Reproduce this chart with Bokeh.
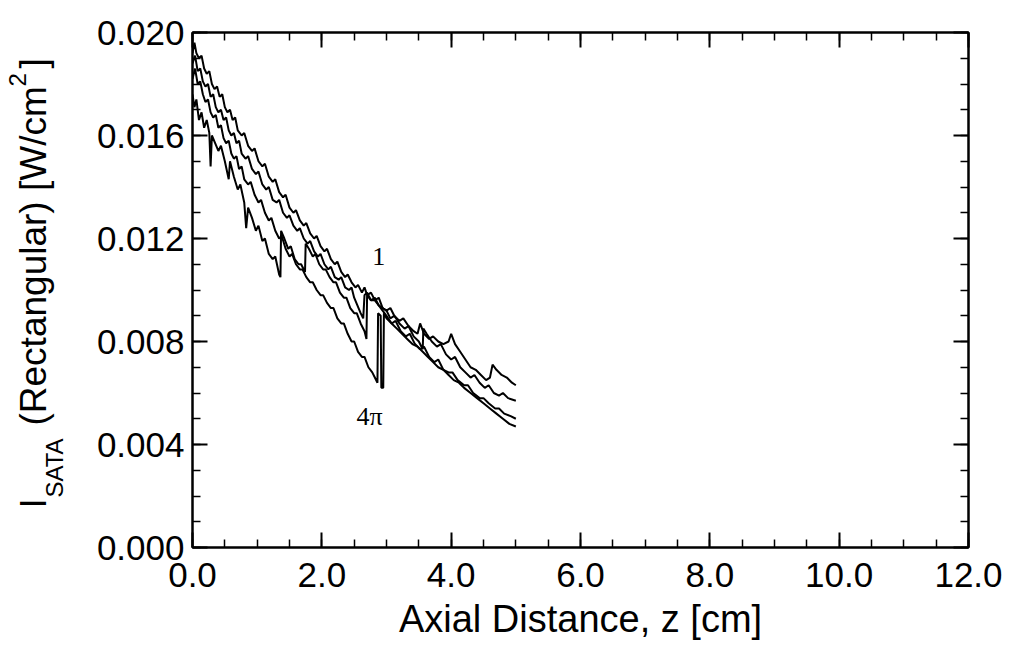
from math import pi
from bokeh.plotting import figure
from bokeh.layouts import row
from bokeh.models import (Range1d, LinearAxis, SingleIntervalTicker, PrintfTickFormatter,
                          CustomJSTickFormatter)
from bokeh.embed import file_html
from bokeh.resources import INLINE
from bokeh.core.properties import value

# ---------------- data ----------------
z_a = [0.00, 0.03, 0.06, 0.10, 0.14, 0.18, 0.22, 0.26, 0.30, 0.34, 0.38, 0.42, 0.46, 0.50,
       0.54, 0.58, 0.62, 0.66, 0.70, 0.76, 0.80, 0.86, 0.92, 0.96, 1.02, 1.08, 1.12, 1.18,
       1.24, 1.28, 1.34, 1.40, 1.44, 1.50, 1.56, 1.60, 1.66, 1.72, 1.76, 1.82, 1.88, 1.92,
       1.98, 2.04, 2.08, 2.14, 2.20, 2.24, 2.30, 2.36, 2.40, 2.46, 2.52, 2.56, 2.62, 2.66,
       2.70, 2.76, 2.82, 2.88, 2.94, 3.00, 3.06, 3.12, 3.20, 3.26, 3.34, 3.42, 3.48, 3.52,
       3.58, 3.66, 3.72, 3.80, 3.88, 3.96, 4.00, 4.06, 4.14, 4.22, 4.30, 4.38, 4.46, 4.54,
       4.60, 4.64, 4.70, 4.78, 4.86, 4.94, 5.00]
i_a = [0.0192, 0.0196, 0.0192, 0.0190, 0.0191, 0.0186, 0.0184, 0.0185, 0.0180, 0.0178,
       0.0179, 0.0175, 0.0176, 0.0171, 0.0169, 0.0170, 0.0166, 0.0167, 0.0162, 0.0160,
       0.0161, 0.0156, 0.0154, 0.0155, 0.0150, 0.0148, 0.0149, 0.0144, 0.0142, 0.0143,
       0.0138, 0.0136, 0.0137, 0.0132, 0.0130, 0.0131, 0.0127, 0.0125, 0.0126, 0.0122,
       0.0120, 0.0121, 0.0117, 0.0115, 0.0116, 0.0112, 0.0110, 0.0111, 0.0107, 0.0105,
       0.0106, 0.0103, 0.0101, 0.0102, 0.0099, 0.0101, 0.0098, 0.0099, 0.0096, 0.0097,
       0.0093, 0.0092, 0.0093, 0.0090, 0.0088, 0.0089, 0.0086, 0.0084, 0.0083, 0.0087,
       0.0083, 0.0081, 0.0082, 0.0080, 0.0079, 0.0080, 0.0083, 0.0079, 0.0076, 0.0073,
       0.0070, 0.0069, 0.0067, 0.0065, 0.0066, 0.0071, 0.0069, 0.0067, 0.0066, 0.0064,
       0.0063]

z_b = [0.00, 0.04, 0.08, 0.12, 0.16, 0.20, 0.24, 0.28, 0.32, 0.36, 0.40, 0.44, 0.48, 0.52,
       0.56, 0.60, 0.64, 0.68, 0.72, 0.76, 0.82, 0.86, 0.92, 0.98, 1.02, 1.08, 1.14, 1.18,
       1.24, 1.30, 1.34, 1.40, 1.46, 1.50, 1.56, 1.62, 1.66, 1.72, 1.78, 1.82, 1.88, 1.94,
       1.98, 2.04, 2.10, 2.14, 2.20, 2.26, 2.30, 2.36, 2.42, 2.46, 2.50, 2.55, 2.60, 2.64,
       2.66, 2.70, 2.76, 2.82, 2.88, 2.94, 3.00, 3.06, 3.12, 3.20, 3.28, 3.34, 3.42, 3.50,
       3.56, 3.57, 3.62, 3.70, 3.78, 3.84, 3.92, 4.00, 4.06, 4.14, 4.22, 4.30, 4.36, 4.44,
       4.52, 4.58, 4.66, 4.74, 4.80, 4.88, 5.00]
i_b = [0.0188, 0.0191, 0.0185, 0.0186, 0.0181, 0.0179, 0.0180, 0.0175, 0.0176, 0.0171,
       0.0169, 0.0170, 0.0166, 0.0167, 0.0162, 0.0160, 0.0161, 0.0157, 0.0158, 0.0153,
       0.0151, 0.0152, 0.0147, 0.0145, 0.0146, 0.0141, 0.0139, 0.0140, 0.0135, 0.0134,
       0.0135, 0.0130, 0.0128, 0.0129, 0.0125, 0.0123, 0.0124, 0.0120, 0.0118, 0.0119,
       0.0115, 0.0113, 0.0114, 0.0110, 0.0108, 0.0109, 0.0105, 0.0104, 0.0105, 0.0101,
       0.0100, 0.0101, 0.0097, 0.0094, 0.0091, 0.0089, 0.0098, 0.0099, 0.0096, 0.0097,
       0.0094, 0.0093, 0.0092, 0.0089, 0.0090, 0.0087, 0.0085, 0.0086, 0.0082, 0.0080,
       0.0077, 0.0085, 0.0083, 0.0080, 0.0078, 0.0079, 0.0075, 0.0073, 0.0074, 0.0070,
       0.0068, 0.0066, 0.0067, 0.0064, 0.0062, 0.0063, 0.0060, 0.0059, 0.0060, 0.0058,
       0.0057]

z_c = [0.00, 0.04, 0.08, 0.12, 0.16, 0.20, 0.24, 0.28, 0.32, 0.36, 0.40, 0.44, 0.48, 0.52,
       0.56, 0.60, 0.64, 0.68, 0.72, 0.76, 0.80, 0.86, 0.90, 0.96, 1.02, 1.06, 1.12, 1.18,
       1.22, 1.28, 1.34, 1.38, 1.44, 1.50, 1.54, 1.60, 1.66, 1.70, 1.76, 1.82, 1.86, 1.92,
       1.98, 2.02, 2.08, 2.14, 2.18, 2.24, 2.30, 2.34, 2.40, 2.46, 2.50, 2.56, 2.62, 2.66,
       2.72, 2.78, 2.82, 2.86, 2.87, 2.91, 2.92, 2.95, 2.96, 3.00, 3.08, 3.14, 3.22, 3.30,
       3.36, 3.44, 3.52, 3.58, 3.66, 3.74, 3.80, 3.88, 3.96, 4.02, 4.10, 4.20, 4.26, 4.34,
       4.44, 4.50, 4.58, 4.68, 4.74, 4.82, 4.92, 5.00]
i_c = [0.0182, 0.0186, 0.0180, 0.0181, 0.0176, 0.0173, 0.0174, 0.0169, 0.0167, 0.0168,
       0.0163, 0.0164, 0.0159, 0.0157, 0.0158, 0.0153, 0.0151, 0.0152, 0.0147, 0.0148,
       0.0143, 0.0141, 0.0142, 0.0137, 0.0134, 0.0135, 0.0130, 0.0127, 0.0128, 0.0123,
       0.0120, 0.0121, 0.0116, 0.0113, 0.0114, 0.0110, 0.0108, 0.0108, 0.0105, 0.0103,
       0.0103, 0.0100, 0.0098, 0.0098, 0.0095, 0.0093, 0.0093, 0.0089, 0.0087, 0.0087,
       0.0083, 0.0080, 0.0080, 0.0076, 0.0074, 0.0074, 0.0070, 0.0068, 0.0066, 0.0064,
       0.0091, 0.0090, 0.0062, 0.0062, 0.0091, 0.0089, 0.0087, 0.0088, 0.0084, 0.0082,
       0.0083, 0.0079, 0.0077, 0.0078, 0.0074, 0.0072, 0.0073, 0.0069, 0.0068, 0.0068,
       0.0065, 0.0063, 0.0063, 0.0060, 0.0058, 0.0058, 0.0056, 0.0054, 0.0054, 0.0052,
       0.0051, 0.0050]

z_d = [0.00, 0.03, 0.06, 0.10, 0.14, 0.18, 0.22, 0.26, 0.28, 0.30, 0.35, 0.40, 0.44, 0.50,
       0.56, 0.58, 0.64, 0.70, 0.74, 0.80, 0.83, 0.86, 0.92, 0.98, 1.02, 1.08, 1.12, 1.18,
       1.24, 1.28, 1.34, 1.36, 1.37, 1.42, 1.48, 1.52, 1.58, 1.64, 1.68, 1.74, 1.75, 1.80,
       1.86, 1.90, 1.96, 2.02, 2.06, 2.12, 2.18, 2.22, 2.28, 2.34, 2.38, 2.44, 2.50, 2.54,
       2.60, 2.66, 2.69, 2.70, 2.76, 2.82, 2.88, 2.94, 3.00, 3.08, 3.16, 3.24, 3.32, 3.40,
       3.48, 3.56, 3.64, 3.72, 3.80, 3.88, 3.96, 4.04, 4.12, 4.20, 4.30, 4.40, 4.50, 4.60,
       4.70, 4.80, 4.90, 5.00]
i_d = [0.0176, 0.0171, 0.0174, 0.0166, 0.0169, 0.0163, 0.0166, 0.0161, 0.0148, 0.0160,
       0.0157, 0.0154, 0.0156, 0.0150, 0.0143, 0.0150, 0.0144, 0.0139, 0.0141, 0.0134,
       0.0124, 0.0132, 0.0128, 0.0123, 0.0125, 0.0119, 0.0120, 0.0114, 0.0112, 0.0113,
       0.0106, 0.0105, 0.0123, 0.0120, 0.0116, 0.0117, 0.0112, 0.0110, 0.0110, 0.0107,
       0.0118, 0.0116, 0.0113, 0.0114, 0.0110, 0.0108, 0.0108, 0.0105, 0.0103, 0.0103,
       0.0099, 0.0097, 0.0097, 0.0093, 0.0091, 0.0091, 0.0087, 0.0084, 0.0081, 0.0098,
       0.0096, 0.0096, 0.0094, 0.0092, 0.0090, 0.0087, 0.0085, 0.0083, 0.0081, 0.0079,
       0.0078, 0.0076, 0.0074, 0.0072, 0.0070, 0.0069, 0.0067, 0.0065, 0.0064, 0.0062,
       0.0060, 0.0058, 0.0056, 0.0054, 0.0052, 0.0050, 0.0048, 0.0047]

curve_labels = ["1", "4\u03c0"]
curve_label_z = [2.88, 2.74]
curve_label_i = [0.0113, 0.0051]

y_title_parts = ["I", "(Rectangular) [W/cm", "]"]
y_title_small = ["SATA", "2"]

# ---------------- figure ----------------
FONT = "Liberation Sans"
W, H = 1010, 648
TW = 80  # width of the strip holding the rotated y title
TOP, BOT = 32, 101  # frame margins (top / bottom)

p = figure(width=W - TW, height=H, output_backend="svg", toolbar_location=None,
           x_range=Range1d(0, 12), y_range=Range1d(0, 0.02),
           x_axis_type=None, y_axis_type=None,
           min_border_left=192 - TW, min_border_right=42, min_border_top=TOP,
           min_border_bottom=BOT)
p.background_fill_color = "white"
p.border_fill_color = "white"
p.outline_line_color = "black"
p.outline_line_width = 2


def style_axis(ax, labels=True):
    ax.axis_line_color = "black"
    ax.axis_line_width = 2
    ax.major_tick_in = 15
    ax.major_tick_out = 0
    ax.minor_tick_in = 8
    ax.minor_tick_out = 0
    ax.major_tick_line_width = 2
    ax.minor_tick_line_width = 1.5
    ax.major_tick_line_color = "black"
    ax.minor_tick_line_color = "black"
    ax.major_label_text_font = FONT
    ax.major_label_text_font_size = "35px"
    ax.major_label_text_color = "black"
    if not labels:
        ax.formatter = CustomJSTickFormatter(code="return ''")


xb = LinearAxis(ticker=SingleIntervalTicker(interval=2, num_minor_ticks=4),
                formatter=PrintfTickFormatter(format="%.1f"))
style_axis(xb)
xb.major_label_standoff = 15
xb.axis_label = "Axial Distance, z [cm]"
xb.axis_label_text_font = FONT
xb.axis_label_text_font_size = "38px"
xb.axis_label_text_font_style = "normal"
xb.axis_label_text_color = "black"
xb.axis_label_standoff = 8
p.add_layout(xb, "below")

xt = LinearAxis(ticker=SingleIntervalTicker(interval=2, num_minor_ticks=4))
style_axis(xt, labels=False)
p.add_layout(xt, "above")

yl = LinearAxis(ticker=SingleIntervalTicker(interval=0.004, num_minor_ticks=4),
                formatter=PrintfTickFormatter(format="%.3f"))
style_axis(yl)
yl.major_label_standoff = 8
p.add_layout(yl, "left")

yr = LinearAxis(ticker=SingleIntervalTicker(interval=0.004, num_minor_ticks=4))
style_axis(yr, labels=False)
p.add_layout(yr, "right")

for zz, ii in [(z_a, i_a), (z_b, i_b), (z_c, i_c), (z_d, i_d)]:
    p.line(zz, ii, line_color="black", line_width=2)

p.text(x=curve_label_z, y=curve_label_i, text=curve_labels,
       text_font=value("Liberation Serif"), text_font_size="26px",
       text_align="center", text_baseline="middle", text_color="black")

# ---------------- strip with the rotated y-axis title ----------------
# its frame spans the same canvas rows as the main frame; data y = H - canvas y
t = figure(width=TW, height=H, output_backend="svg", toolbar_location=None,
           x_range=Range1d(0, TW), y_range=Range1d(BOT, H - TOP),
           x_axis_type=None, y_axis_type=None,
           min_border_left=0, min_border_right=0,
           min_border_top=TOP, min_border_bottom=BOT)
t.outline_line_color = None
t.background_fill_color = "white"
t.border_fill_color = "white"
t.grid.visible = False

# anchor positions (x = baseline, y = start of the upward-reading text)
t.text(x=[33, 33, 33], y=[H - 508, H - 425, H - 68], text=y_title_parts,
       angle=pi / 2, text_font=value(FONT), text_font_size="37px",
       text_align="left", text_baseline="alphabetic", text_color="black")
t.text(x=[54, 17], y=[H - 497, H - 86], text=y_title_small,
       angle=pi / 2, text_font=value(FONT), text_font_size="24px",
       text_align="left", text_baseline="alphabetic", text_color="black")

layout = row(t, p, spacing=0)
open("out.html", "w").write(file_html(layout, INLINE))
